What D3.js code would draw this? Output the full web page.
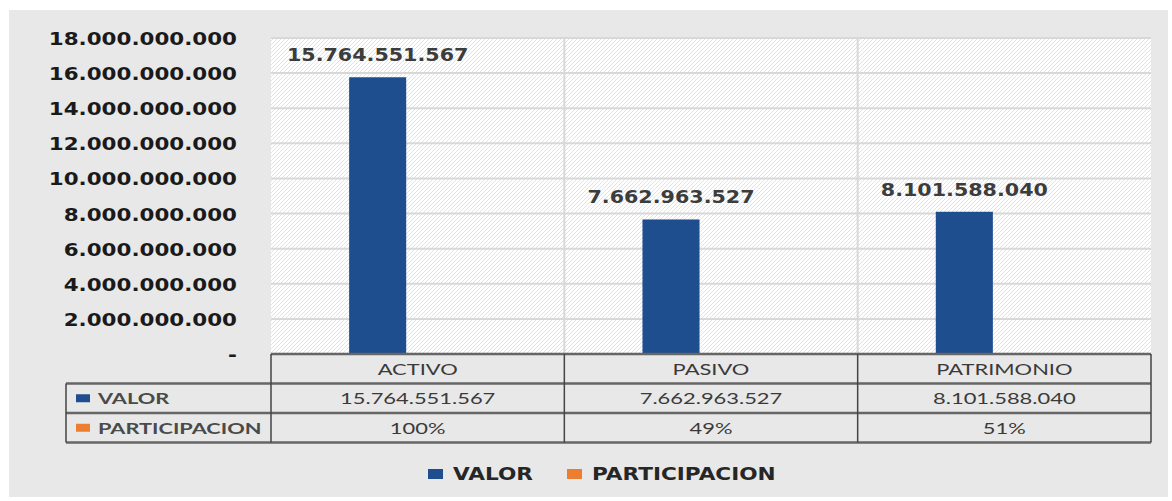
<!DOCTYPE html>
<html>
<head>
<meta charset="utf-8">
<script src="https://cdn.jsdelivr.net/npm/d3@7"></script>
<style>
  html, body { margin: 0; padding: 0; background: #ffffff; }
  svg { display: block; }
</style>
</head>
<body>
<svg id="chart" width="1172" height="501"></svg>
<script>
// ---- data ----
const categories = ["ACTIVO", "PASIVO", "PATRIMONIO"];
const seriesNames = ["VALOR", "PARTICIPACION"];
const valor = [15764551567, 7662963527, 8101588040];
const participacion = [1.00, 0.49, 0.51];
const participacionLabels = ["100%", "49%", "51%"];
const yTicks = [0, 2e9, 4e9, 6e9, 8e9, 10e9, 12e9, 14e9, 16e9, 18e9];
const yTickLabels = ["-", "2.000.000.000", "4.000.000.000", "6.000.000.000", "8.000.000.000",
  "10.000.000.000", "12.000.000.000", "14.000.000.000", "16.000.000.000", "18.000.000.000"];

// ---- layout & style ----
const W = 1172, H = 501;
const plot = { left: 271, right: 1151, top: 38, bottom: 354 };
const rowH = 29.5;
const tableLeft = 66;
const colors = { VALOR: "#1f4e8f", PARTICIPACION: "#ed7d31" };

const es = d3.formatLocale({ decimal: ",", thousands: ".", grouping: [3], currency: ["$", ""] });
const fmt = es.format(",d");

const svg = d3.select("#chart");

// hatch used for the plot background
const defs = svg.append("defs");
const pat = defs.append("pattern")
  .attr("id", "hatch").attr("patternUnits", "userSpaceOnUse")
  .attr("width", 4).attr("height", 4);
pat.append("rect").attr("width", 4).attr("height", 4).attr("fill", "#ffffff");
pat.append("path").attr("d", "M0,4 L4,0 M-1,1 L1,-1 M3,5 L5,3")
  .attr("stroke", "#e2e2e2").attr("stroke-width", 1);

// outer panel
svg.append("rect").attr("x", 9).attr("y", 10).attr("width", W - 13).attr("height", 487)
  .attr("fill", "#e8e8e8");

// scales
const y = d3.scaleLinear().domain([0, 18e9]).range([plot.bottom, plot.top]);
const x0 = d3.scaleBand().domain(categories).range([plot.left, plot.right]).padding(0);
const x1 = d3.scaleBand().domain(seriesNames).range([0, x0.bandwidth()])
  .paddingInner(0).paddingOuter(1.57).align(0.436);

// plot background
svg.append("rect")
  .attr("x", plot.left).attr("y", plot.top)
  .attr("width", plot.right - plot.left).attr("height", plot.bottom - plot.top)
  .attr("fill", "url(#hatch)");

// horizontal gridlines
svg.append("g").selectAll("line").data(yTicks.slice(1)).join("line")
  .attr("x1", plot.left).attr("x2", plot.right)
  .attr("y1", d => y(d)).attr("y2", d => y(d))
  .attr("stroke", "#d8d8d8").attr("stroke-width", 2);

// vertical gridlines at category boundaries
svg.append("g").selectAll("line").data(categories.slice(1)).join("line")
  .attr("x1", d => x0(d)).attr("x2", d => x0(d))
  .attr("y1", plot.top).attr("y2", plot.bottom)
  .attr("stroke", "#d8d8d8").attr("stroke-width", 2);

// y axis labels
const yAxis = d3.axisLeft(y).tickValues(yTicks)
  .tickFormat((d, i) => yTickLabels[i]).tickSize(0).tickPadding(0);
const gy = svg.append("g").attr("transform", "translate(237,0)").call(yAxis);
gy.select(".domain").remove();
gy.selectAll("text")
  .attr("x", 0).attr("dy", "0.36em")
  .attr("transform", "scale(1.19,1)")
  .style("font-family", "'DejaVu Sans', Verdana, sans-serif")
  .style("font-weight", "bold").style("font-size", "18px")
  .attr("fill", "#1a1a1a");

// bars
const seriesData = [
  { name: "VALOR", values: valor },
  { name: "PARTICIPACION", values: participacion }
];
const gBars = svg.append("g");
seriesData.forEach(s => {
  gBars.selectAll(null).data(s.values).join("rect")
    .attr("x", (d, i) => x0(categories[i]) + x1(s.name))
    .attr("width", x1.bandwidth())
    .attr("y", d => y(d))
    .attr("height", d => y(0) - y(d))
    .attr("fill", colors[s.name]);
});

// value labels above the VALOR bars
svg.append("g").selectAll("text").data(valor).join("text")
  .attr("transform", (d, i) =>
    `translate(${x0(categories[i]) + x1("VALOR") + x1.bandwidth() / 2},${y(d) - 16}) scale(1.18,1)`)
  .attr("text-anchor", "middle")
  .style("font-family", "'DejaVu Sans', Verdana, sans-serif")
  .style("font-weight", "bold").style("font-size", "17.5px")
  .attr("fill", "#3c3c3c")
  .text(d => fmt(d));

// ---- data table ----
const tb = svg.append("g");
const rowTop = i => plot.bottom + i * rowH;
const cellFont = sel => sel
  .style("font-family", "Lato, 'Open Sans', sans-serif")
  .style("font-size", "16px").attr("fill", "#3a3a3a");

// horizontal rules
[[plot.left, 0], [tableLeft, 1], [tableLeft, 2], [tableLeft, 3]].forEach(([xs, r]) => {
  tb.append("line").attr("x1", xs).attr("x2", plot.right)
    .attr("y1", rowTop(r)).attr("y2", rowTop(r))
    .attr("stroke", "#666").attr("stroke-width", 2.5);
});
// vertical rules
tb.append("line").attr("x1", tableLeft).attr("x2", tableLeft)
  .attr("y1", rowTop(1)).attr("y2", rowTop(3)).attr("stroke", "#444").attr("stroke-width", 1.5);
[...categories.map(c => x0(c)), plot.right].forEach(xv => {
  tb.append("line").attr("x1", xv).attr("x2", xv)
    .attr("y1", rowTop(0)).attr("y2", rowTop(3)).attr("stroke", "#444").attr("stroke-width", 1.5);
});

// header row
tb.selectAll(".hdr").data(categories).join("text").attr("class", "hdr")
  .attr("transform", d => `translate(${x0(d) + x0.bandwidth() / 2},${rowTop(0) + rowH / 2}) scale(1.37,1)`)
  .attr("text-anchor", "middle").attr("dy", "0.36em")
  .call(cellFont).text(d => d);

// value rows
const rows = [
  { name: "VALOR", labels: valor.map(v => fmt(v)) },
  { name: "PARTICIPACION", labels: participacionLabels }
];
rows.forEach((r, ri) => {
  const cy = rowTop(ri + 1) + rowH / 2;
  tb.append("rect").attr("x", 76).attr("y", cy - 4).attr("width", 14).attr("height", 8)
    .attr("fill", colors[r.name]);
  tb.append("text")
    .attr("transform", `translate(98,${cy}) scale(1.36,1)`)
    .attr("dy", "0.36em")
    .style("font-family", "Lato, 'Open Sans', sans-serif")
    .style("font-size", "16px").style("font-weight", "bold")
    .attr("fill", "#4a4a4a").text(r.name);
  tb.selectAll(null).data(r.labels).join("text")
    .attr("transform", (d, i) => `translate(${x0(categories[i]) + x0.bandwidth() / 2},${cy}) scale(1.37,1)`)
    .attr("text-anchor", "middle").attr("dy", "0.36em")
    .call(cellFont).text(d => d);
});

// ---- legend ----
const legendItems = [
  { name: "VALOR", x: 428 },
  { name: "PARTICIPACION", x: 567 }
];
const lg = svg.append("g");
legendItems.forEach(it => {
  lg.append("rect").attr("x", it.x).attr("y", 469).attr("width", 15).attr("height", 10)
    .attr("fill", colors[it.name]);
  lg.append("text")
    .attr("transform", `translate(${it.x + 25},480) scale(1.27,1)`)
    .style("font-family", "'DejaVu Sans', Verdana, sans-serif")
    .style("font-weight", "bold").style("font-size", "17px")
    .attr("fill", "#262626").text(it.name);
});
</script>
</body>
</html>
